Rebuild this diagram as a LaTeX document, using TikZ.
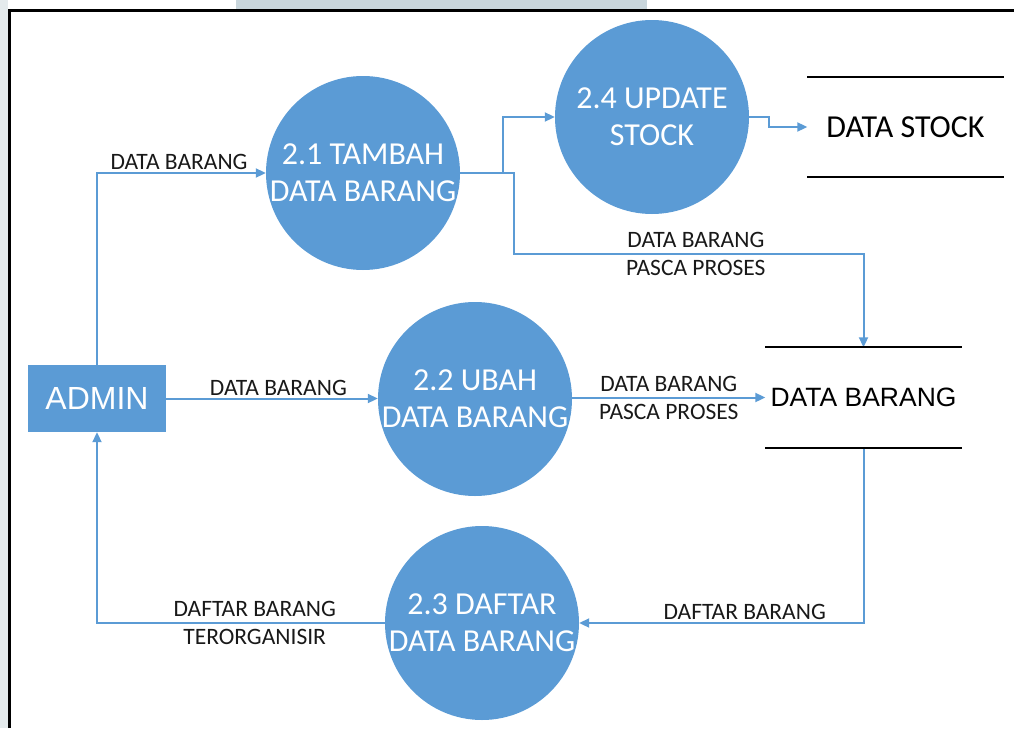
\documentclass[tikz,border=0pt]{standalone}
\usepackage{fontspec}
\setmainfont{Liberation Sans}
\newfontfamily\calibri{Carlito}
\usetikzlibrary{arrows.meta,backgrounds}
\definecolor{dfdblue}{HTML}{5B9BD5}
\definecolor{edgetint}{HTML}{C9D6DC}
\definecolor{sidetint}{HTML}{E4EAEC}
% two centred lines whose width does not enlarge the circle
\newcommand\ptxt[2]{\makebox[0pt]{#1}\\\makebox[0pt]{#2}}
\begin{document}
\begin{tikzpicture}[x=1pt,y=-1pt,
  process/.style={circle, fill=dfdblue, minimum size=194pt, inner sep=0pt,
    text=white, align=center, font=\calibri\fontsize{32}{37}\selectfont},
  entity/.style={rectangle, fill=dfdblue, minimum width=138pt, minimum height=67pt,
    inner sep=0pt, text=white, font=\fontsize{32}{36}\selectfont},
  store/.style={minimum width=196pt, minimum height=100pt, inner sep=0pt},
  storeline/.style={line width=2pt, black},
  flow/.style={draw=dfdblue, line width=2pt, -{Triangle[length=10pt,width=9pt]}},
  flowlabel/.style={font=\calibri\fontsize{23.5}{28}\selectfont, text=black!90, align=center, inner sep=2pt}
]
\useasboundingbox (0,0) rectangle (1014,728);
% page edge tint and frame
\fill[sidetint] (0,0) rectangle (8,728);
\fill[edgetint] (236,0) rectangle (647,8.5);
\draw[line width=3pt] (9.5,728) -- (9.5,10) -- (1014,10);

% external entity
\node[entity] (admin) at (97,398.5) {ADMIN};

% processes
\node[process] (p21) at (363,173) {\ptxt{2.1 TAMBAH}{DATA BARANG}};
\node[process] (p24) at (652,117) {\ptxt{2.4 UPDATE}{STOCK}};
\node[process] (p22) at (475,399) {\ptxt{2.2 UBAH}{DATA BARANG}};
\node[process] (p23) at (482,623) {\ptxt{2.3 DAFTAR}{DATA BARANG}};

% data stores
\node[store, font=\calibri\fontsize{32}{36}\selectfont] (ds) at (905.5,127) {DATA STOCK};
\node[store, font=\fontsize{26.5}{30}\selectfont] (db) at (863.5,397.5) {DATA BARANG};
\draw[storeline] (ds.north west) -- (ds.north east) (ds.south west) -- (ds.south east);
\draw[storeline] (db.north west) -- (db.north east) (db.south west) -- (db.south east);

% data flows
\begin{scope}[on background layer]
\draw[flow] (admin.north) |- (p21.west)
  node[flowlabel, pos=0.743, above] {DATA BARANG};
\draw[flow] (admin.east) -- (admin.east -| p22.west)
  node[flowlabel, pos=0.53, above] {DATA BARANG};
\draw[flow] (p21.east) -- ++(43,0) |- (p24.west);
\draw[flow] (p21.east) -- ++(54,0) -- ++(0,81) -| (db.north)
  node[flowlabel, pos=0.26] {DATA BARANG\\PASCA PROSES};
\draw[flow] (p24.east) -- ++(20,0) |- (ds.west);
\draw[flow] (p22.east |- db.west) -- (db.west)
  node[flowlabel, midway] {DATA BARANG\\PASCA PROSES};
\draw[flow] (db.south) |- (p23.east)
  node[flowlabel, pos=0.709, above] {DAFTAR BARANG};
\draw[flow] (p23.west) -| (admin.south)
  node[flowlabel, pos=0.226] {DAFTAR BARANG\\TERORGANISIR};
\end{scope}
\end{tikzpicture}
\end{document}
